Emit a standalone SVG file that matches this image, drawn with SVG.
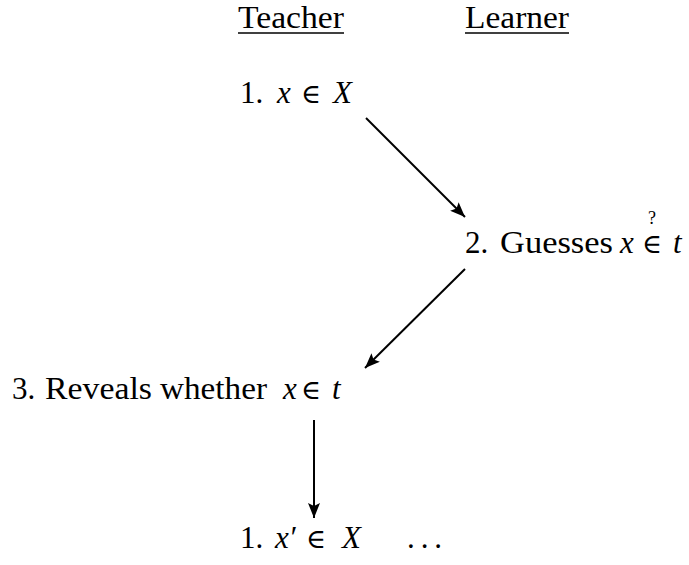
<svg xmlns="http://www.w3.org/2000/svg" width="689" height="565" viewBox="0 0 689 565">
<style>
text{font-family:"Liberation Serif","Times New Roman",serif;font-size:31px;fill:#000}
.m{font-style:italic}
.s{font-family:"DejaVu Serif","Liberation Serif",serif;font-size:27px}
.q{font-size:18px}
.ul{stroke:#000;stroke-width:1.4}
.c{stroke:#000;stroke-width:2;fill:none}
</style>
<defs>
<marker id="ah" markerUnits="userSpaceOnUse" markerWidth="16" markerHeight="12" viewBox="0 0 16 12" refX="15" refY="6" orient="auto">
<path d="M0,0 L15,6 L0,12 L3,6 Z" fill="#000"/>
</marker>
</defs>
<g id="header-teacher">
<text x="238" y="28" textLength="106" lengthAdjust="spacingAndGlyphs">Teacher</text>
<line class="ul" x1="238" y1="33" x2="344" y2="33"/>
</g>
<g id="header-learner">
<text x="465" y="28" textLength="104" lengthAdjust="spacingAndGlyphs">Learner</text>
<line class="ul" x1="465" y1="33" x2="569" y2="33"/>
</g>
<g id="node1">
<text x="240" y="103">1.</text>
<text class="m" x="277" y="103">x</text>
<text class="s" x="301" y="103">∈</text>
<text class="m" x="333" y="103">X</text>
</g>
<g id="node2">
<text x="465" y="253">2.</text>
<text x="500" y="253" textLength="113" lengthAdjust="spacingAndGlyphs">Guesses</text>
<text class="m" x="620" y="253">x</text>
<text class="s" x="642" y="253">∈</text>
<text class="q" x="652" y="224" text-anchor="middle">?</text>
<text class="m" x="673" y="253">t</text>
</g>
<g id="node3">
<text x="12" y="399">3.</text>
<text x="45" y="399" textLength="107" lengthAdjust="spacingAndGlyphs">Reveals</text>
<text x="160" y="399" textLength="107" lengthAdjust="spacingAndGlyphs">whether</text>
<text class="m" x="283" y="399">x</text>
<text class="s" x="301" y="399">∈</text>
<text class="m" x="332" y="399">t</text>
</g>
<g id="node4">
<text x="240" y="548">1.</text>
<text class="m" x="275" y="548">x′</text>
<text class="s" x="306" y="548">∈</text>
<text class="m" x="342" y="548">X</text>
<text x="407" y="548" textLength="35" lengthAdjust="spacing">. . .</text>
</g>
<g id="connectors">
<line class="c" x1="366" y1="118" x2="465" y2="217" marker-end="url(#ah)"/>
<line class="c" x1="465" y1="269" x2="365" y2="368" marker-end="url(#ah)"/>
<line class="c" x1="314" y1="420" x2="314" y2="518" marker-end="url(#ah)"/>
</g>
</svg>
